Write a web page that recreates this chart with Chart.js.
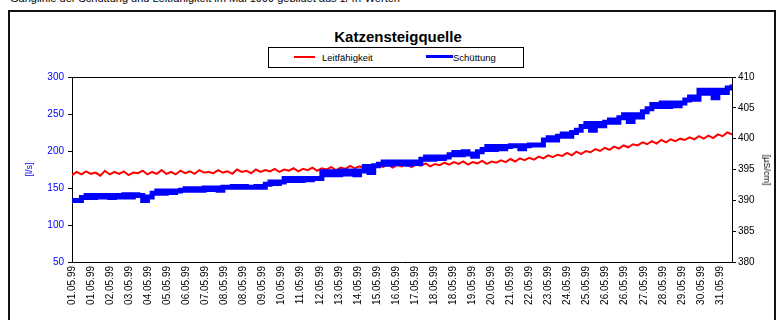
<!DOCTYPE html>
<html>
<head>
<meta charset="utf-8">
<script src="https://cdn.jsdelivr.net/npm/chart.js@4.4.1/dist/chart.umd.min.js"></script>
<style>
  html, body { margin: 0; padding: 0; background: #fff; }
  body { width: 784px; height: 320px; position: relative; overflow: hidden; font-family: "Liberation Sans", Arial, sans-serif; }
  #caption { position: absolute; left: 10px; top: -8px; font-size: 11px; color: #000; white-space: nowrap; }
  #frame { position: absolute; left: 8px; top: 10px; width: 768px; height: 330px; border: 2px solid #111; box-sizing: border-box; }
  #title { position: absolute; left: 298px; width: 200px; top: 28px; text-align: center; font-size: 15px; font-weight: bold; color: #000; }
  #legend { position: absolute; left: 268px; top: 47px; width: 256px; height: 21px; border: 1px solid #000; box-sizing: border-box; font-size: 9.5px; }
  #legend .ln { position: absolute; }
  #legend .tx { position: absolute; top: 4px; }
  #rtitle { position: absolute; left: 767px; top: 170px; font-size: 9px; color: #000; white-space: nowrap; transform: translate(-50%, -50%) rotate(90deg); }
  canvas { position: absolute; left: 0; top: 0; }
</style>
</head>
<body>
<div id="caption">Ganglinie der Schüttung und Leitfähigkeit im Mai 1999 gebildet aus 1/4h-Werten</div>
<div id="frame"></div>
<div id="title">Katzensteigquelle</div>
<div id="legend">
  <div class="ln" style="left:25px; top:8px; width:21px; height:2px; background:#ff0000;"></div>
  <div class="tx" style="left:53px;">Leitfähigkeit</div>
  <div class="ln" style="left:157px; top:7px; width:27px; height:3px; background:#0000ff;"></div>
  <div class="tx" style="left:184px;">Schüttung</div>
</div>
<canvas id="chart" width="784" height="320"></canvas>
<div id="rtitle">[µS/cm]</div>
<script>
// ---- Category labels (Excel shows one label every ~85 quarter-hour values)
const DATE_LABELS = [
  "01.05.99", "01.05.99", "02.05.99", "03.05.99", "04.05.99", "05.05.99", "06.05.99", "07.05.99", "08.05.99",
  "08.05.99", "09.05.99", "10.05.99", "11.05.99", "12.05.99", "13.05.99", "14.05.99", "15.05.99", "16.05.99",
  "17.05.99", "18.05.99", "18.05.99", "19.05.99", "20.05.99", "21.05.99", "22.05.99", "23.05.99", "24.05.99",
  "25.05.99", "26.05.99", "26.05.99", "27.05.99", "28.05.99", "29.05.99", "30.05.99", "31.05.99"
];

// ---- Axis ranges [min, max, step]
const LEFT_RANGE = [50, 300, 50];    // l/s
const RIGHT_RANGE = [380, 410, 5];   // µS/cm

// ---- Schüttung [l/s], ~141 samples over the month
const SCHUETTUNG = [
  133, 133,
  137, 140, 137, 140, 138, 140, 137, 140, 138, 141, 138, 141,
  140, 133, 138,
  143, 146, 143, 146, 144, 146,
  147, 149, 147, 149, 147, 150, 148, 150, 147,
  151, 151, 152, 151, 152, 151, 151, 152, 151,
  155, 158, 156, 158, 163,
  160, 163, 160, 163, 161, 163,
  163, 172,
  168, 172, 168, 173, 169, 173, 168,
  173, 179, 171, 180,
  182, 185, 182, 185, 183, 185, 182, 185, 183,
  189, 192, 189, 192, 190, 192,
  195, 198, 195, 199, 196,
  193, 199,
  202, 206, 202, 206, 203, 206,
  207, 207,
  203, 207,
  208, 208, 208,
  215, 218, 215,
  220, 223, 220,
  225, 228,
  233, 237, 228, 237, 234,
  239, 242, 239,
  245, 249, 240, 249, 246,
  253, 257, 263,
  260, 265, 260, 265, 261, 265,
  269, 273, 270,
  282,
  278, 282, 272, 282, 279,
  285, 290
];

// ---- Leitfähigkeit [µS/cm], same sampling
const LEITFAEHIGKEIT = [
  394.1, 394.6, 394.2, 394.7, 394.3, 394.5, 394.0, 394.8, 394.2, 394.6,
  394.3, 394.7, 394.1, 394.5, 394.4, 394.8, 394.2, 394.6, 394.3, 394.9,
  394.3, 394.6, 394.2, 394.8, 394.4, 394.7, 394.3, 394.9, 394.5, 394.6,
  394.4, 394.9, 394.5, 394.7, 394.3, 395.0, 394.6, 394.8, 394.4, 395.0,
  394.6, 394.9, 394.7, 395.1, 394.6, 395.0, 394.8, 395.2, 394.7, 395.1,
  394.9, 395.3, 394.8, 395.2, 395.0, 395.4, 394.9, 395.3, 395.1, 395.6,
  395.2, 395.5, 395.3, 395.7, 395.2, 395.6, 395.4, 395.8, 395.3, 395.7,
  395.5, 395.9, 395.4, 395.8, 395.6, 396.0, 395.5, 395.9, 395.7, 396.1,
  395.8, 396.2, 395.9, 396.3, 395.8, 396.2, 396.0, 396.4, 395.9, 396.3,
  396.1, 396.5, 396.2, 396.7, 396.3, 396.8, 396.5, 396.9, 396.6, 397.1,
  396.8, 397.3, 397.0, 397.4, 397.2, 397.7, 397.3, 397.9, 397.5, 398.0,
  397.8, 398.3, 398.0, 398.5, 398.2, 398.7, 398.4, 398.9, 398.6, 399.1,
  398.9, 399.4, 399.1, 399.6, 399.2, 399.8, 399.4, 399.9, 399.6, 400.0,
  399.8, 400.2, 399.9, 400.4, 400.0, 400.5, 400.1, 400.7, 400.4, 401.0,
  400.7
];

const FONT = "'Liberation Sans', Arial, sans-serif";

function toPoints(arr) {
  return arr.map(function (v, i) { return { x: i, y: v }; });
}

// top edge of the plot frame (left/right/bottom come from the axes)
const plotFrame = {
  id: "plotFrame",
  afterDraw: function (chart) {
    const a = chart.chartArea;
    const ctx = chart.ctx;
    ctx.save();
    ctx.strokeStyle = "#000";
    ctx.lineWidth = 1;
    ctx.beginPath();
    ctx.moveTo(a.left, a.top + 0.5);
    ctx.lineTo(a.right, a.top + 0.5);
    ctx.stroke();
    ctx.restore();
  }
};

new Chart(document.getElementById("chart"), {
  type: "line",
  data: {
    datasets: [
      {
        label: "Schüttung",
        data: toPoints(SCHUETTUNG),
        xAxisID: "xd",
        yAxisID: "y",
        borderColor: "#0000ff",
        borderWidth: 5,
        stepped: true,
        pointRadius: 0
      },
      {
        label: "Leitfähigkeit",
        data: toPoints(LEITFAEHIGKEIT),
        xAxisID: "xd",
        yAxisID: "y2",
        borderColor: "#ff0000",
        borderWidth: 2,
        tension: 0,
        pointRadius: 0
      }
    ]
  },
  options: {
    responsive: false,
    animation: false,
    devicePixelRatio: 1,
    layout: { padding: { left: 20, right: 8, top: 77, bottom: 0 } },
    plugins: { legend: { display: false }, tooltip: { enabled: false } },
    scales: {
      xd: {
        type: "linear",
        display: false,
        min: 0,
        max: SCHUETTUNG.length - 1
      },
      x: {
        type: "linear",
        position: "bottom",
        min: 0,
        max: 34.63,
        afterFit: function (s) { s.height = 58; },
        grid: { display: false, drawTicks: false },
        border: { display: true, color: "#000", width: 1 },
        ticks: {
          stepSize: 1,
          includeBounds: false,
          autoSkip: false,
          maxRotation: 90,
          minRotation: 90,
          padding: 4,
          color: "#000",
          font: { family: FONT, size: 10 },
          callback: function (value) {
            return DATE_LABELS[value] !== undefined ? DATE_LABELS[value] : "";
          }
        }
      },
      y: {
        type: "linear",
        position: "left",
        min: LEFT_RANGE[0],
        max: LEFT_RANGE[1],
        afterFit: function (s) { s.width = 52; },
        grid: { drawOnChartArea: false, drawTicks: true, tickLength: 4, color: "#000" },
        border: { display: true, color: "#000", width: 1 },
        ticks: {
          stepSize: LEFT_RANGE[2],
          padding: 4,
          color: "#0000ff",
          font: { family: FONT, size: 10 }
        },
        title: {
          display: true,
          text: "[l/s]",
          color: "#0000ff",
          padding: 4,
          font: { family: FONT, size: 9 }
        }
      },
      y2: {
        type: "linear",
        position: "right",
        min: RIGHT_RANGE[0],
        max: RIGHT_RANGE[1],
        afterFit: function (s) { s.width = 44; },
        grid: { drawOnChartArea: false, drawTicks: true, tickLength: 4, color: "#000" },
        border: { display: true, color: "#000", width: 1 },
        ticks: {
          stepSize: RIGHT_RANGE[2],
          padding: 2,
          color: "#000",
          font: { family: FONT, size: 10 }
        }
      }
    }
  },
  plugins: [plotFrame]
});
</script>
</body>
</html>
